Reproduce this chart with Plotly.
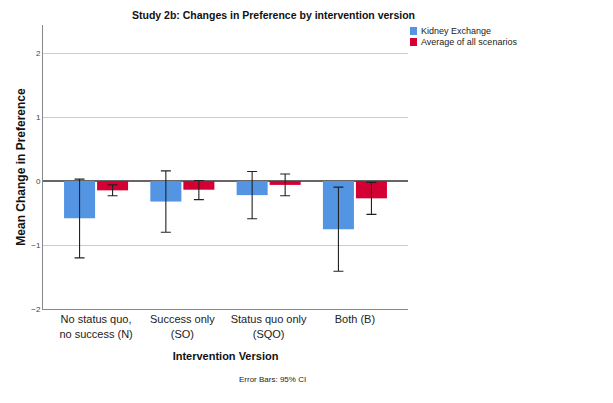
import plotly.graph_objects as go

categories = ["No status quo,<br>no success (N)", "Success only<br>(SO)",
              "Status quo only<br>(SQO)", "Both (B)"]
series_names = ["Kidney Exchange", "Average of all scenarios"]
series_colors = ["#5394E3", "#D40034"]
kidney_mean = [-0.58, -0.32, -0.22, -0.755]
kidney_ci_low = [-1.20, -0.80, -0.59, -1.41]
kidney_ci_high = [0.03, 0.16, 0.15, -0.094]
avg_mean = [-0.145, -0.135, -0.06, -0.27]
avg_ci_low = [-0.23, -0.29, -0.23, -0.52]
avg_ci_high = [-0.06, 0.01, 0.11, -0.02]
y_ticks = [-2, -1, 0, 1, 2]

def err(mean, lo, hi):
    return dict(type="data", symmetric=False,
                array=[h - m for m, h in zip(mean, hi)],
                arrayminus=[m - l for m, l in zip(mean, lo)],
                color="#222222", thickness=1.1, width=5)

fig = go.Figure()
for name, color, m, lo, hi in [
        (series_names[0], series_colors[0], kidney_mean, kidney_ci_low, kidney_ci_high),
        (series_names[1], series_colors[1], avg_mean, avg_ci_low, avg_ci_high)]:
    fig.add_trace(go.Bar(x=categories, y=m, name=name,
                         marker=dict(color=color, line=dict(width=0)),
                         error_y=err(m, lo, hi)))

# Compact legend (SPSS style): small squares + labels
PW = 613 - 43 - 205  # plot width in px
PH = 403 - 25 - 94   # plot height in px
shapes = []
annotations = []
for i, (name, color) in enumerate(zip(series_names, series_colors)):
    top_px = 2 + i * 11  # px below plot top
    x0 = (410 - 43) / PW
    x1 = (417 - 43) / PW
    y0 = 1 - (top_px + 8) / PH
    y1 = 1 - top_px / PH
    shapes.append(dict(type="rect", xref="paper", yref="paper",
                       x0=x0, x1=x1, y0=y0, y1=y1,
                       fillcolor=color, line=dict(width=0)))
    annotations.append(dict(text=name, xref="paper", yref="paper",
                            x=(419 - 43) / PW, y=(y0 + y1) / 2,
                            xanchor="left", yanchor="middle", showarrow=False,
                            font=dict(size=9, color="#222222")))

annotations += [
    dict(text="<b>Study 2b: Changes in Preference by intervention version</b>",
         xref="paper", yref="paper", x=(273 - 43) / PW, y=1.0, yshift=2,
         xanchor="center", yanchor="bottom", showarrow=False,
         font=dict(size=10.5, color="#111111")),
    dict(text="Error Bars: 95% CI", xref="paper", yref="paper",
         x=(272 - 43) / PW, y=0, yshift=-64, xanchor="center", yanchor="top",
         showarrow=False, font=dict(size=8, color="#222222")),
]

fig.update_layout(
    width=613, height=403,
    margin=dict(l=43, r=205, t=25, b=94),
    plot_bgcolor="white", paper_bgcolor="white",
    barmode="group", bargap=0.235, bargroupgap=0.06,
    font=dict(family="Liberation Sans", color="#222222"),
    showlegend=False,
    xaxis=dict(range=[-0.615, 3.615], showgrid=False,
               showline=True, linecolor="#888888", linewidth=1,
               ticks="", tickfont=dict(size=11, color="#222222"),
               title=dict(text="<b>Intervention Version</b>",
                          font=dict(size=11, color="#111111"), standoff=13)),
    yaxis=dict(range=[-2, 2.44], tickvals=y_ticks,
               showgrid=True, gridcolor="#cccccc", gridwidth=1,
               zeroline=True, zerolinecolor="#666666", zerolinewidth=1.5,
               showline=True, linecolor="#888888", linewidth=1,
               ticks="", tickfont=dict(size=8, color="#444444"),
               title=dict(text="<b>Mean Change in Preference</b>",
                          font=dict(size=12, color="#111111"), standoff=3)),
    shapes=shapes,
    annotations=annotations,
)
fig.write_html("out.html", config={"displayModeBar": False},
               post_script="document.body.style.margin='0';document.body.style.padding='0';")
